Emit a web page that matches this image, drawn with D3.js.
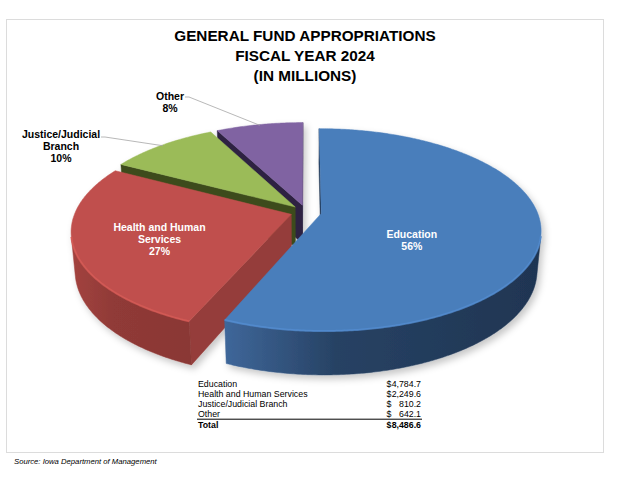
<!DOCTYPE html>
<html>
<head>
<meta charset="utf-8">
<script src="https://cdn.jsdelivr.net/npm/d3@7"></script>
<style>
body { margin: 0; background: #fff; font-family: "Liberation Sans", Arial, sans-serif; }
</style>
</head>
<body>
<div id="chart"></div>
<script>
var categories = ['Education', 'Health and Human Services', 'Justice/Judicial Branch', 'Other'];
var sliceLabels = [['Education'], ['Health and Human', 'Services'], ['Justice/Judicial', 'Branch'], ['Other']];
var amounts = [4784.7, 2249.6, 810.2, 642.1];
var titleLines = ['GENERAL FUND APPROPRIATIONS', 'FISCAL YEAR 2024', '(IN MILLIONS)'];
var sourceNote = 'Source: Iowa Department of Management';

var topColors = ['#4a7ebb', '#c0504d', '#9bbb59', '#8064a2'];
var radialColors = ['#1f3552', '#953e3b', '#3d4b1c', '#2e2343'];
var wallColors = [['#3f679a', '#1f3552'], ['#a3433f', '#8a3734'], ['#5d7128', '#4a5a20'], ['#4d3b66', '#3a2c4f']];

var W = 642, H = 490;
var svg = d3.select('#chart').append('svg')
    .attr('width', W)
    .attr('height', H);

var defs = svg.append('defs');
var shadow = defs.append('filter')
    .attr('id', 'shadow')
    .attr('x', '-10%').attr('y', '-10%')
    .attr('width', '130%').attr('height', '130%');
shadow.append('feDropShadow')
    .attr('dx', 3).attr('dy', 4)
    .attr('stdDeviation', 3.5)
    .attr('flood-color', '#000')
    .attr('flood-opacity', 0.22);

// frame
svg.append('rect')
    .attr('x', 6.5).attr('y', 19.5)
    .attr('width', 597).attr('height', 433)
    .attr('fill', '#fff')
    .attr('stroke', '#dcdcdc');

svg.append('g').selectAll('text')
    .data(titleLines)
    .enter().append('text')
    .attr('x', 305)
    .attr('y', function(d, i) { return 41 + i * 20; })
    .attr('text-anchor', 'middle')
    .attr('font-weight', 'bold')
    .attr('font-size', '15.3px')
    .attr('fill', '#000')
    .text(function(d) { return d; });

// 3D pie: d3.pie gives the angles, a small perspective camera does the rest
var view = {cx: 306, cy: 212, dist: 5.5, tilt: 27 * Math.PI / 180, scale: 216, depth: 0.205, explode: 0.072},
    sn = Math.sin(view.tilt),
    cs = Math.cos(view.tilt),
    F = view.scale * view.dist,
    cam = {x: 0, z: -view.dist * cs};

var project = function(x, z, h) {
    var v = z * sn + h * cs,
        w = view.dist + z * cs - h * sn;
    return [view.cx + F * x / w, view.cy - F * v / w, w];
};

var total = d3.sum(amounts),
    pct = d3.format('.0%'),
    money = d3.format(',.1f'),
    arcs = d3.pie().sort(null).value(function(d) { return d; })(amounts);

var faces = [];
arcs.forEach(function(a, i) {
    var mid = (a.startAngle + a.endAngle) / 2,
        ox = view.explode * Math.sin(mid),
        oz = view.explode * Math.cos(mid),
        n = Math.max(2, Math.ceil((a.endAngle - a.startAngle) / 0.01)),
        ts = d3.range(n + 1).map(function(k) { return a.startAngle + (a.endAngle - a.startAngle) * k / n; }),
        rim = function(t, h, r) { r = r || 1; return project(ox + r * Math.sin(t), oz + r * Math.cos(t), h); },
        apexT = project(ox, oz, 0),
        apexB = project(ox, oz, -view.depth);

    a.mid = mid;
    a.rim = rim;
    a.top = [apexT].concat(ts.map(function(t) { return rim(t, 0); }));

    // radial walls that face the camera
    [[a.startAngle, -1], [a.endAngle, 1]].forEach(function(e) {
        var t = e[0], sg = e[1],
            nx = sg * Math.cos(t), nz = -sg * Math.sin(t),
            px = ox + Math.sin(t) / 2, pz = oz + Math.cos(t) / 2;
        if (nx * (cam.x - px) + nz * (cam.z - pz) > 0) {
            var pts = [apexT, rim(t, 0), rim(t, -view.depth), apexB];
            faces.push({i: i, kind: 'radial', pts: pts, depth: d3.mean(pts, function(p) { return p[2]; })});
        }
    });

    // visible part of the outer wall
    var vis = ts.filter(function(t) {
        var px = ox + Math.sin(t), pz = oz + Math.cos(t);
        return Math.sin(t) * (cam.x - px) + Math.cos(t) * (cam.z - pz) > 0;
    });
    if (vis.length > 1) {
        var topEdge = vis.map(function(t) { return rim(t, 0); }),
            pts = topEdge.concat(vis.slice().reverse().map(function(t) { return rim(t, -view.depth); }));
        a.front = topEdge;
        faces.push({i: i, kind: 'outer', pts: pts, depth: d3.mean(pts, function(p) { return p[2]; }),
            x0: d3.min(pts, function(p) { return p[0]; }), x1: d3.max(pts, function(p) { return p[0]; })});
    }
});

faces.sort(function(a, b) { return b.depth - a.depth; });

faces.filter(function(f) { return f.kind === 'outer'; }).forEach(function(f) {
    var g = defs.append('linearGradient')
        .attr('id', 'wall' + f.i)
        .attr('gradientUnits', 'userSpaceOnUse')
        .attr('x1', f.x0).attr('x2', f.x1)
        .attr('y1', 0).attr('y2', 0);
    g.append('stop').attr('offset', 0).attr('stop-color', wallColors[f.i][0]);
    g.append('stop').attr('offset', 0.35).attr('stop-color', d3.interpolate(wallColors[f.i][0], wallColors[f.i][1])(0.75));
    g.append('stop').attr('offset', 1).attr('stop-color', wallColors[f.i][1]);
});

var line = d3.line();
var pieG = svg.append('g').attr('filter', 'url(#shadow)');

pieG.selectAll('.wall')
    .data(faces)
    .enter().append('path')
    .attr('class', 'wall')
    .attr('d', function(f) { return line(f.pts) + 'Z'; })
    .attr('fill', function(f) { return f.kind === 'outer' ? 'url(#wall' + f.i + ')' : radialColors[f.i]; })
    .attr('stroke', function(f) { return f.kind === 'outer' ? 'url(#wall' + f.i + ')' : radialColors[f.i]; })
    .attr('stroke-width', 0.5);

pieG.selectAll('.top')
    .data(arcs)
    .enter().append('path')
    .attr('class', 'top')
    .attr('d', function(a) { return line(a.top) + 'Z'; })
    .attr('fill', function(a, i) { return topColors[i]; })
    .attr('stroke', function(a, i) { return topColors[i]; })
    .attr('stroke-width', 0.5);

// soft bevel along the front rim
pieG.selectAll('.bevel')
    .data(arcs.filter(function(a) { return a.front; }))
    .enter().append('path')
    .attr('class', 'bevel')
    .attr('d', function(a) { return line(a.front); })
    .attr('fill', 'none')
    .attr('stroke', function(a) { return d3.color(topColors[a.index]).brighter(0.35); })
    .attr('stroke-width', 2)
    .attr('opacity', 0.7);

// inside labels
var inside = [{i: 0, r: 0.42, dy: 19}, {i: 1, r: 0.62, dy: 4}];
inside.forEach(function(l) {
    var a = arcs[l.i],
        p = a.rim(a.mid, 0, l.r),
        lines = sliceLabels[l.i].concat([pct(a.value / total)]),
        y0 = p[1] + l.dy - (lines.length - 1) * 6 + 3.5;
    svg.append('text')
        .attr('text-anchor', 'middle')
        .attr('font-weight', 'bold')
        .attr('font-size', '10.5px')
        .attr('fill', '#fff')
        .selectAll('tspan')
        .data(lines)
        .enter().append('tspan')
        .attr('x', p[0])
        .attr('y', function(d, k) { return y0 + k * 12; })
        .text(function(d) { return d; });
});

// outside labels with leader lines
var outside = [{i: 2, x: 61, y: 138, lx: 101, ly: 137}, {i: 3, x: 170, y: 100, lx: 185, ly: 97}];
outside.forEach(function(l) {
    var a = arcs[l.i],
        p = a.rim(a.mid, 0, 0.99),
        lines = sliceLabels[l.i].concat([pct(a.value / total)]);
    svg.append('path')
        .attr('d', line([[l.lx, l.ly], [l.lx + 4, l.ly], [p[0], p[1]]]))
        .attr('fill', 'none')
        .attr('stroke', '#a6a6a6')
        .attr('stroke-width', 0.8);
    svg.append('text')
        .attr('text-anchor', 'middle')
        .attr('font-weight', 'bold')
        .attr('font-size', '10.5px')
        .attr('fill', '#000')
        .selectAll('tspan')
        .data(lines)
        .enter().append('tspan')
        .attr('x', l.x)
        .attr('y', function(d, k) { return l.y + k * 12; })
        .text(function(d) { return d; });
});

// table below the pie
var rowY = d3.scaleLinear().domain([0, 1]).range([387, 397]);
var rows = categories.map(function(c, i) { return {name: c, value: amounts[i], bold: false}; })
    .concat([{name: 'Total', value: total, bold: true}]);
var table = svg.append('g')
    .attr('font-size', '8.8px')
    .attr('fill', '#000');
rows.forEach(function(r, i) {
    var y = rowY(i) + (r.bold ? 0.5 : 0);
    table.append('text').attr('x', 198).attr('y', y)
        .attr('font-weight', r.bold ? 'bold' : 'normal').text(r.name);
    table.append('text').attr('x', 386.5).attr('y', y)
        .attr('font-weight', r.bold ? 'bold' : 'normal').text('$');
    table.append('text').attr('x', 421).attr('y', y)
        .attr('text-anchor', 'end')
        .attr('font-weight', r.bold ? 'bold' : 'normal').text(money(r.value));
});
table.append('line')
    .attr('x1', 197).attr('x2', 422)
    .attr('y1', rowY(3) + 2.2).attr('y2', rowY(3) + 2.2)
    .attr('stroke', '#000')
    .attr('stroke-width', 1);

svg.append('text')
    .attr('x', 14).attr('y', 464)
    .attr('font-size', '7.7px')
    .attr('font-style', 'italic')
    .text(sourceNote);
</script>
</body>
</html>
